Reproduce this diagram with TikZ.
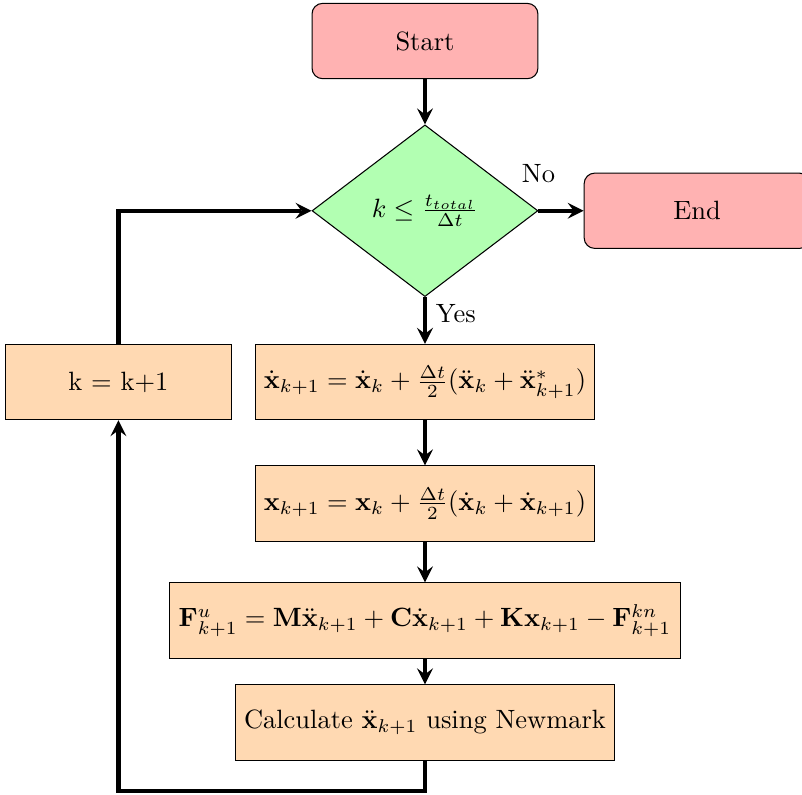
\documentclass[tikz,border=0pt]{standalone}
\usepackage{amsmath}
\usetikzlibrary{positioning, shapes.geometric}

\begin{document}
\begin{tikzpicture}[node distance=0.6cm,>=stealth,
    startstop/.style={draw, rectangle, rounded corners, fill=red!30, minimum width=3cm, minimum height=1cm},
    decision/.style={draw, diamond, aspect=1.3, fill=green!30, minimum width=3cm, minimum height=2.28cm},
    process/.style={draw, rectangle, fill=orange!30, minimum width=3cm, minimum height=1cm},
    arrow/.style={ultra thick, ->}]
      \useasboundingbox (-5.644,0.545) rectangle (5.007,-10.0);

      % Start and loop test
      \node[startstop] (start) {Start};
      \node[decision, below=0.6cm of start] (cond) {$k \leq \frac{t_{total}}{\Delta t}$};
      \node[startstop, right=0.6cm of cond] (stop) {End};

      % Newmark update steps
      \node[process, below=0.62cm of cond] (vel) {$\dot{\mathbf{x}}_{k+1} = \dot{\mathbf{x}}_k + \frac{\Delta t}{2}(\ddot{\mathbf{x}}_k + \ddot{\mathbf{x}}^*_{k+1})$};
      \node[process, below=0.6cm of vel] (pos) {$\mathbf{x}_{k+1} = \mathbf{x}_k + \frac{\Delta t}{2}(\dot{\mathbf{x}}_k + \dot{\mathbf{x}}_{k+1})$};
      \node[process, below=0.54cm of pos] (force) {$\mathbf{F}^u_{k+1} = \mathbf{M}\ddot{\mathbf{x}}_{k+1} + \mathbf{C}\dot{\mathbf{x}}_{k+1} + \mathbf{K}\mathbf{x}_{k+1} - \mathbf{F}^{kn}_{k+1}$};
      \node[process, below=0.34cm of force] (acc) {Calculate $\ddot{\mathbf{x}}_{k+1}$ using Newmark};
      \node[process, left=0.3cm of vel] (incr) {k = k+1};

      % Connections
      \draw[arrow] (start) -- (cond);
      \draw[arrow] (cond) -- (stop);
      \node[above=0.25cm of cond.east] (no) {No};
      \draw[arrow] (cond) -- node[right, pos=0.35] (yes) {Yes} (vel);
      \draw[arrow] (vel) -- (pos);
      \draw[arrow] (pos) -- (force);
      \draw[arrow] (force) -- (acc);
      \draw[arrow] (acc.south) -- ++(0,-0.4) -| (incr.south);
      \draw[arrow] (incr.north) |- (cond.west);
\end{tikzpicture}
\end{document}
